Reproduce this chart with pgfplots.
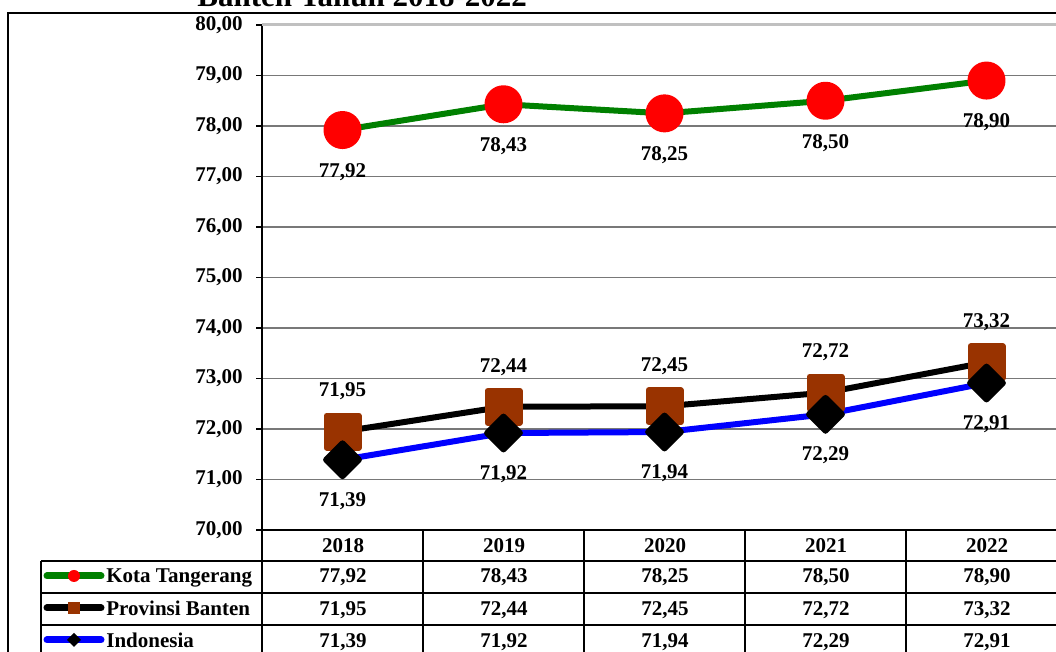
\documentclass[border=0pt]{standalone}
\usepackage{fontspec}
\setmainfont{Liberation Serif}
\usepackage{pgfplots}
\pgfplotsset{compat=1.18}
\pgfkeys{/pgf/number format/assume math mode=true}
\definecolor{kota}{RGB}{0,128,0}
\definecolor{banten}{RGB}{153,51,0}
\definecolor{gridgray}{RGB}{120,120,120}
\definecolor{topgray}{RGB}{192,192,192}

\begin{document}
\fontsize{10.5}{12}\selectfont\bfseries
\begin{tikzpicture}
\useasboundingbox (0,0) rectangle (528pt,326pt);
\clip (0,0) rectangle (528pt,326pt);

\begin{axis}[
  at={(131pt,61pt)}, anchor=south west,
  scale only axis, width=402.5pt, height=252.5pt,
  xmin=-0.5, xmax=4.5, ymin=70, ymax=80,
  ytick={70,71,...,80}, xtick=\empty,
  axis x line*=bottom, axis y line*=left,
  axis line style={line width=0.6pt,black},
  ymajorgrids, grid style={gridgray,line width=0.6pt},
  tick align=outside, major tick length=3pt,
  ytick style={black,line width=0.6pt},
  y tick label style={font=\bfseries,xshift=-3pt,
    /pgf/number format/.cd,fixed,fixed zerofill,precision=2,use comma},
  clip=false,
  nodes near coords={\pgfmathprintnumber[fixed,fixed zerofill,precision=2,use comma]{\pgfplotspointmeta}},
  every node near coord/.append style={font=\bfseries,anchor=center,inner sep=0pt,text=black},
  line join=round,
]
\draw[topgray,line width=1.5pt] (rel axis cs:0,1) -- (rel axis cs:1,1);
\addplot[kota,line width=3pt,mark=*,mark size=8pt,
  mark options={fill=red,draw=red},
  every node near coord/.append style={yshift=-21pt}]
  coordinates {(0,77.92) (1,78.43) (2,78.25) (3,78.50) (4,78.90)};
\addplot[black,line width=3pt,mark=square*,mark size=8pt,
  mark options={fill=banten,draw=banten},
  every node near coord/.append style={yshift=20pt}]
  coordinates {(0,71.95) (1,72.44) (2,72.45) (3,72.72) (4,73.32)};
\addplot[blue,line width=3pt,mark=square*,mark size=5.8pt,
  mark options={fill=black,draw=black,rotate=45},
  every node near coord/.append style={yshift=-20.5pt}]
  coordinates {(0,71.39) (1,71.92) (2,71.94) (3,72.29) (4,72.91)};
\end{axis}

\begin{scope}[x=0.5pt,y=0.5pt]
% chart area frame and title
\draw[line width=0.75pt] (8,-10) -- (8,639) -- (1070,639);
\node[anchor=base west,inner sep=0,font=\fontsize{15.5}{18}\selectfont\bfseries] at (197,645) {Banten Tahun 2018-2022};
% data table
\begin{scope}[line width=0.6pt]
\foreach \y in {91,59,27} \draw (41,\y) -- (1070,\y);
\draw (41,91) -- (41,-5);
\foreach \x in {262,423,584,745,906} \draw (\x,122) -- (\x,-5);
\end{scope}
\foreach \yr [count=\i from 0] in {2018,2019,2020,2021,2022}
  \node[anchor=base,inner sep=0] at (343+161*\i,99) {\yr};
\foreach \v [count=\i from 0] in {{77,92},{78,43},{78,25},{78,50},{78,90}}
  \node[anchor=base,inner sep=0] at (343+161*\i,69) {\v};
\foreach \v [count=\i from 0] in {{71,95},{72,44},{72,45},{72,72},{73,32}}
  \node[anchor=base,inner sep=0] at (343+161*\i,36) {\v};
\foreach \v [count=\i from 0] in {{71,39},{71,92},{71,94},{72,29},{72,91}}
  \node[anchor=base,inner sep=0] at (343+161*\i,4) {\v};
% legend keys
\draw[kota,line width=3.5pt,line cap=round] (47,76) -- (101,76);
\fill[red] (74,76) circle (6);
\node[anchor=base west,inner sep=0] at (106,69) {Kota Tangerang};
\draw[black,line width=3.5pt,line cap=round] (47,44) -- (101,44);
\fill[banten] (68,38) rectangle (80,50);
\node[anchor=base west,inner sep=0] at (106,36) {Provinsi Banten};
\draw[blue,line width=3.5pt,line cap=round] (47,12) -- (101,12);
\fill[black] (74,19) -- (81,12) -- (74,5) -- (67,12) -- cycle;
\node[anchor=base west,inner sep=0] at (106,4) {Indonesia};
\end{scope}
\end{tikzpicture}
\end{document}
